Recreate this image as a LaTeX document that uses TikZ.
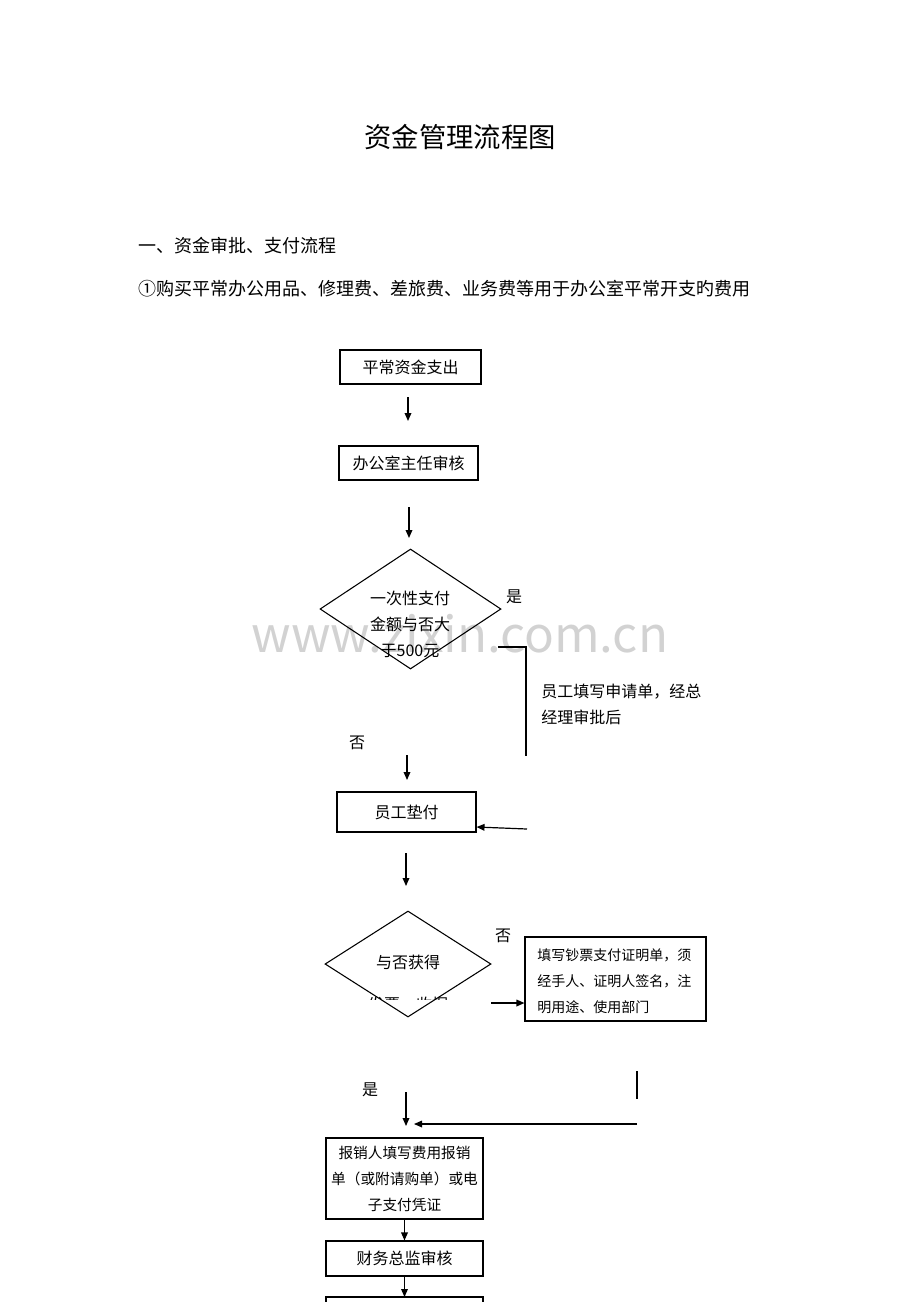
\documentclass[tikz,border=0pt]{standalone}
\usepackage{fontspec}
\setmainfont{Noto Sans CJK SC}
\usetikzlibrary{arrows.meta,shapes.geometric}
\begin{document}
\begin{tikzpicture}[x=0.75pt,y=-0.75pt,
 box/.style={draw,line width=0.8pt,font=\fontsize{12}{14}\selectfont,align=center,inner sep=0pt},
 arr/.style={-{Triangle[length=6pt,width=5pt]},line width=0.9pt},
 txt/.style={font=\fontsize{12}{14}\selectfont,inner sep=0pt}]
\useasboundingbox (0,0) rectangle (920,1302);
\node[font=\fontsize{20.5}{24}\selectfont] (title) at (460,137) {资金管理流程图};
\node[font=\fontsize{13.5}{16}\selectfont,inner sep=0pt,anchor=west] (h1) at (138,246) {一、资金审批、支付流程};
\node[font=\fontsize{13.5}{16}\selectfont,inner sep=0pt,anchor=west] (h2) at (138,289) {①购买平常办公用品、修理费、差旅费、业务费等用于办公室平常开支旳费用};
\node[text=gray!35,font=\fontsize{37}{40}\selectfont] (wm) at (460,634) {www.zixin.com.cn};
\node[box,minimum width=141*0.75pt,minimum height=34*0.75pt] (b1) at (410.5,367) {平常资金支出};
\node[box,minimum width=139*0.75pt,minimum height=34*0.75pt] (b2) at (408.5,463) {办公室主任审核};
\coordinate (a1s) at (408,397); \coordinate (a1e) at (408,421);
\draw[arr] (a1s) -- (a1e);
\coordinate (a2s) at (409,507); \coordinate (a2e) at (409,538);
\draw[arr] (a2s) -- (a2e);
\node[draw,line width=0.8pt,diamond,aspect=1.5,minimum width=181*0.75pt,minimum height=120*0.75pt,inner sep=0pt] (d1) at (410.5,609) {};
\node[font=\fontsize{12}{19.5}\selectfont,align=center] (d1t) at (410,624) {一次性支付\\金额与否大\\于500元};
\node[txt] (yes1) at (514,597) {是};
\coordinate (p1) at (498,647); \coordinate (p2) at (526,647); \coordinate (p3) at (526,756);
\draw[line width=0.8pt] (p1) -- (p2) -- (p3);
\node[txt,anchor=west,align=left,font=\fontsize{12}{19.5}\selectfont] (note1) at (541,704) {员工填写申请单，经总\\经理审批后};
\node[txt] (no1) at (357,743) {否};
\coordinate (a3s) at (407,755); \coordinate (a3e) at (407,780);
\draw[arr] (a3s) -- (a3e);
\node[box,minimum width=139*0.75pt,minimum height=40*0.75pt] (b3) at (406.5,812) {员工垫付};
\coordinate (a4s) at (527,829);
\draw[arr] (a4s) -- (b3.east |- 0,827);
\coordinate (a5s) at (406,853); \coordinate (a5e) at (406,886);
\draw[arr] (a5s) -- (a5e);
\node[draw,line width=0.8pt,diamond,aspect=1.57,minimum width=166*0.75pt,minimum height=106*0.75pt,inner sep=0pt] (d2) at (408,964) {};
\node[txt] (d2t) at (408,962) {与否获得};
\begin{scope}
\clip (330,985) rectangle (480,999.5);
\node[txt] (d2t2) at (408,1004) {发票、收据};
\end{scope}
\node[txt] (no2) at (503,936) {否};
\node[draw,line width=0.8pt,minimum width=181*0.75pt,minimum height=84*0.75pt,inner sep=0pt] (b4) at (615.5,979) {};
\node[anchor=west,align=left,inner sep=0pt,font=\fontsize{10.5}{19.5}\selectfont] (b4t) at (537,981) {填写钞票支付证明单，须\\经手人、证明人签名，注\\明用途、使用部门};
\coordinate (a6s) at (491,1003);
\draw[arr] (a6s) -- (b4.west |- 0,1003);
\coordinate (v1) at (637,1071); \coordinate (v2) at (637,1099);
\draw[line width=0.8pt] (v1) -- (v2);
\coordinate (a7s) at (637,1124); \coordinate (a7e) at (414,1124);
\draw[arr] (a7s) -- (a7e);
\node[txt] (yes2) at (370,1090) {是};
\coordinate (a8s) at (406,1092); \coordinate (a8e) at (406,1126);
\draw[arr] (a8s) -- (a8e);
\node[box,minimum width=157*0.75pt,minimum height=81*0.75pt,font=\fontsize{11}{19.5}\selectfont] (b5) at (404.5,1178.5) {报销人填写费用报销\\单（或附请购单）或电\\子支付凭证};
\node[box,minimum width=157*0.75pt,minimum height=35*0.75pt] (b6) at (404.5,1258.5) {财务总监审核};
\draw[arr] (b5) -- (b6);
\coordinate (b7tl) at (326,1297); \coordinate (b7tr) at (483,1297);
\draw[line width=0.8pt] (326,1310) -- (b7tl) -- (b7tr) -- (483,1310);
\draw[arr] (b6.south) -- (404.5,1297);
\end{tikzpicture}
\end{document}
